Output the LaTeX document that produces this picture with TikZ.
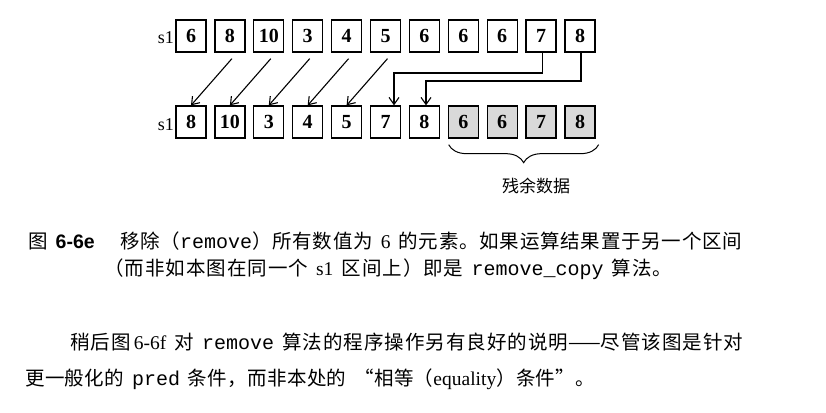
\documentclass[tikz,border=0pt]{standalone}
\usepackage{fontspec}
\setmainfont{Liberation Serif}
\setmonofont{Liberation Mono}
\newfontfamily\cjk{Noto Sans CJK SC}
\newfontfamily\heavysans{Liberation Sans}
\usetikzlibrary{arrows.meta,decorations.pathreplacing,calc}
% stretchable glue between CJK characters, so each text line can be set to a given width
\XeTeXinterchartokenstate=1
\newcount\cjkcode
\cjkcode="3000
\loop
  \XeTeXcharclass\cjkcode=1
  \advance\cjkcode by 1
\ifnum\cjkcode<"3040 \repeat
\cjkcode="4E00
\loop
  \XeTeXcharclass\cjkcode=1
  \advance\cjkcode by 1
\ifnum\cjkcode<"A000 \repeat
\cjkcode="FF00
\loop
  \XeTeXcharclass\cjkcode=1
  \advance\cjkcode by 1
\ifnum\cjkcode<"FF60 \repeat
\XeTeXcharclass"201C=1
\XeTeXcharclass"201D=1
\XeTeXinterchartoks 1 1 = {\hskip 0pt plus 3pt\relax}
\newcommand\zh[1]{{\cjk #1}}
\newcommand\gap{\hskip 0.4em plus 1pt\relax}
\newcommand\code[1]{{\fontsize{20}{20}\selectfont\ttfamily #1}}

\begin{document}
\begin{tikzpicture}[x=1pt,y=-1pt,
  cell/.style={draw, line width=1.3pt, minimum width=30pt, minimum height=32pt,
    inner sep=0pt, font=\fontsize{20}{20}\selectfont\bfseries},
  rest/.style={cell, fill=gray!30},
  conn/.style={line width=1.1pt,
    -{Straight Barb[length=7pt,width=10pt,line width=1.1pt]}},
  tag/.style={font=\fontsize{18}{18}\selectfont, anchor=base east, inner sep=0pt},
  textline/.style={anchor=west, inner sep=0pt, font=\fontsize{19.5}{19.5}\selectfont},
]
\useasboundingbox (0,0) rectangle (826,412);

% the sequence s1 before remove
\foreach \v [count=\i] in {6,8,10,3,4,5,6,6,6,7,8}
  \node[cell] (t\i) at ({191+38.9*(\i-1)},36) {\v};
\node[tag] (s1a) at (174,44) {s1};

% the sequence s1 after remove: kept values, then the leftover tail
\foreach \v [count=\i] in {8,10,3,4,5,7,8}
  \node[cell] (b\i) at ({191+38.9*(\i-1)},122) {\v};
\foreach \v [count=\i from 8] in {6,6,7,8}
  \node[rest] (b\i) at ({191+38.9*(\i-1)},122) {\v};
\node[tag] (s1b) at (174,130) {s1};

% values shifted one place to the left
\foreach \i [evaluate=\i as \j using int(\i-1)] in {2,...,6}
  \draw[conn] ($(t\i.south)+(2,6)$) -- (b\j.north);

% the last two kept values travel over the removed 6s
\coordinate (k1) at (394,73);
\coordinate (k2) at (426,81);
\draw[conn] ($(t10.south)+(1.5,0)$) |- (k1) -- (k1 |- b6.north);
\draw[conn] ($(t11.south)+(1,0)$) |- (k2) -- (k2 |- b7.north);

% leftover data
\draw[line width=1pt, decorate, decoration={brace, amplitude=18pt}]
  ($(b11.south east)+(3,6)$) -- ($(b8.south west)+(1,6)$);
\node (restlabel) at (536,186) {\cjk\fontsize{17}{17}\selectfont 残余数据};

% caption
\node[textline] (cap1) at (28,241) {\hbox to 714pt{\zh{图}\gap{\heavysans\bfseries 6-6e}\hskip 1.3em\zh{移除（}\code{remove}\zh{）所有数值为}\gap 6\gap\zh{的元素。如果运算结果置于另一个区间}}};
\node[textline] (cap2) at (104,269) {\hbox to 568pt{\zh{（而非如本图在同一个}\gap s1\gap\zh{区间上）即是}\gap\code{remove\_copy}\gap\zh{算法。}}};

% paragraph
\node[textline] (par1) at (70,342) {\hbox to 673pt{\zh{稍后图}\,6-6f\gap\zh{对}\gap\code{remove}\gap\zh{算法的程序操作另有良好的说明——尽管该图是针对}}};
\node[textline] (par2) at (25,379) {\hbox to 570pt{\zh{更一般化的}\gap\code{pred}\gap\zh{条件，而非本处的}\gap\zh{“相等（}equality\zh{）条件”。}}};
\end{tikzpicture}
\end{document}
